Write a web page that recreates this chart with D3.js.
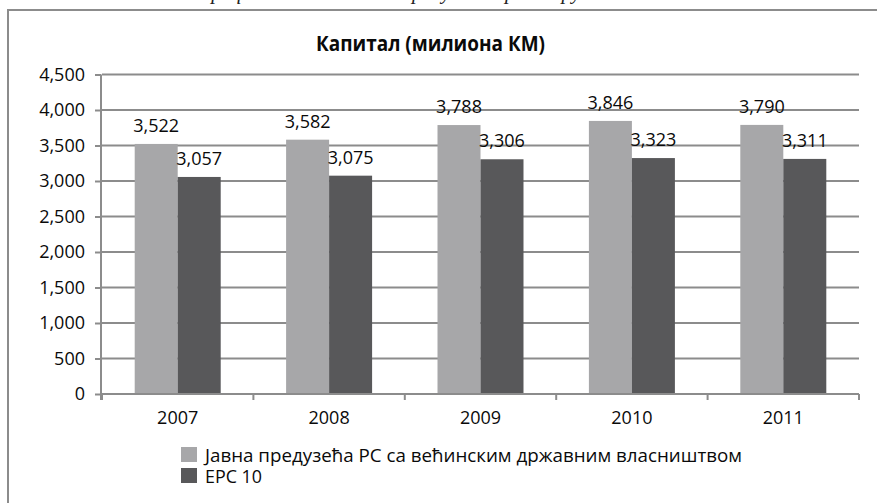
<!DOCTYPE html>
<html><head><meta charset="utf-8">
<script src="https://cdn.jsdelivr.net/npm/d3@7"></script>
<style>body{margin:0;background:#fff} svg{display:block}</style>
</head><body><svg id="c" width="877" height="503"></svg>
<script>
const categories = ["2007", "2008", "2009", "2010", "2011"];
const seriesNames = ["Јавна предузећа РС са већинским државним власништвом", "ЕРС 10"];
const publicEnterprises = [3522, 3582, 3788, 3846, 3790];
const ers10 = [3057, 3075, 3306, 3323, 3311];
const yTicks = [0, 500, 1000, 1500, 2000, 2500, 3000, 3500, 4000, 4500];
const title = "Капитал (милиона КМ)";
const captionAbove = "Графикон 3: Капитал предузећа према групи";
const colors = ["#a7a7a9", "#58585a"];

const series = [publicEnterprises, ers10];
const svg = d3.select("#c");
const pLeft = 102, pRight = 859, pTop = 74.5, pBottom = 394;
const gridCol = "#8c8c8c";
const numFont = "'Open Sans', sans-serif";
const txtCol = "#0a0a0a";

// caption text cut off at top
svg.append("text").attr("x", 200).attr("y", -1)
  .attr("font-family", "'Liberation Serif', serif").attr("font-style", "italic")
  .attr("font-size", 21).attr("fill", "#222").text(captionAbove);

// frame
svg.append("rect").attr("x", 8).attr("y", 10).attr("width", 900).attr("height", 520)
  .attr("fill", "none").attr("stroke", gridCol).attr("stroke-width", 2);

const x = d3.scaleBand().domain(categories).range([pLeft, pRight]).paddingInner(0.432).paddingOuter(0.216);
const x1 = d3.scaleBand().domain([0, 1]).range([0, x.bandwidth()]);
const y = d3.scaleLinear().domain([0, 4500]).range([pBottom, pTop]);

// gridlines
svg.append("g").selectAll("line").data(yTicks.filter(d => d > 0)).join("line")
  .attr("x1", pLeft).attr("x2", pRight).attr("y1", d => y(d)).attr("y2", d => y(d))
  .attr("stroke", gridCol).attr("stroke-width", 2);

// bars
const groups = svg.append("g").selectAll("g").data(categories).join("g")
  .attr("transform", c => `translate(${x(c)},0)`);
groups.selectAll("rect").data((c, i) => series.map((s, k) => ({k, v: s[i]}))).join("rect")
  .attr("x", d => x1(d.k)).attr("width", x1.bandwidth())
  .attr("y", d => y(d.v)).attr("height", d => y(0) - y(d.v))
  .attr("fill", d => colors[d.k]);

// y axis
const yAxis = svg.append("g").attr("transform", `translate(${pLeft - 1},0)`)
  .call(d3.axisLeft(y).tickValues(yTicks).tickFormat(d3.format(",")).tickSize(6).tickPadding(10));
yAxis.select(".domain").attr("stroke", gridCol).attr("stroke-width", 2)
  .attr("d", `M0,${pTop}V${pBottom + 6}`);
yAxis.selectAll(".tick line").attr("stroke", gridCol).attr("stroke-width", 2);
yAxis.selectAll(".tick text").attr("font-family", numFont).attr("font-size", 18).attr("fill", txtCol);

// x axis
const xAxis = svg.append("g").attr("transform", `translate(0,${pBottom})`)
  .call(d3.axisBottom(x).tickSize(0).tickPadding(17));
xAxis.select(".domain").attr("stroke", gridCol).attr("stroke-width", 2)
  .attr("d", `M${pLeft - 2},0H${pRight}`);
xAxis.selectAll(".tick text").attr("font-family", numFont).attr("font-size", 18).attr("fill", txtCol);
const bounds = d3.range(categories.length + 1).map(i => pLeft + i * x.step());
xAxis.append("g").selectAll("line").data(bounds).join("line")
  .attr("x1", d => d).attr("x2", d => d).attr("y1", 0).attr("y2", 6)
  .attr("stroke", gridCol).attr("stroke-width", 2);

// value labels
groups.selectAll("text.val").data((c, i) => series.map((s, k) => ({k, v: s[i]}))).join("text")
  .attr("class", "val")
  .attr("x", d => x1(d.k) + x1.bandwidth() / 2).attr("y", d => y(d.v) - 12)
  .attr("text-anchor", "middle").attr("font-family", numFont).attr("font-size", 18)
  .attr("fill", txtCol).text(d => d3.format(",")(d.v));

// title (condensed look)
svg.append("text").attr("x", 316).attr("y", 51)
  .attr("font-family", "'Open Sans', sans-serif").attr("font-weight", "bold")
  .attr("font-size", 20.5).attr("textLength", 229).attr("lengthAdjust", "spacingAndGlyphs")
  .attr("fill", txtCol).text(title);

// legend
const legendWidths = [537, 57];
const lg = svg.append("g").selectAll("g").data(seriesNames).join("g")
  .attr("transform", (d, i) => `translate(181,${447 + i * 21})`);
lg.append("rect").attr("width", 16).attr("height", 15).attr("fill", (d, i) => colors[i]);
lg.append("text").attr("x", 24).attr("y", 14.5).attr("font-family", "'Open Sans', sans-serif")
  .attr("font-size", 17.5).attr("textLength", (d, i) => legendWidths[i])
  .attr("lengthAdjust", "spacingAndGlyphs")
  .attr("fill", txtCol).text(d => d);
</script>
</body></html>
